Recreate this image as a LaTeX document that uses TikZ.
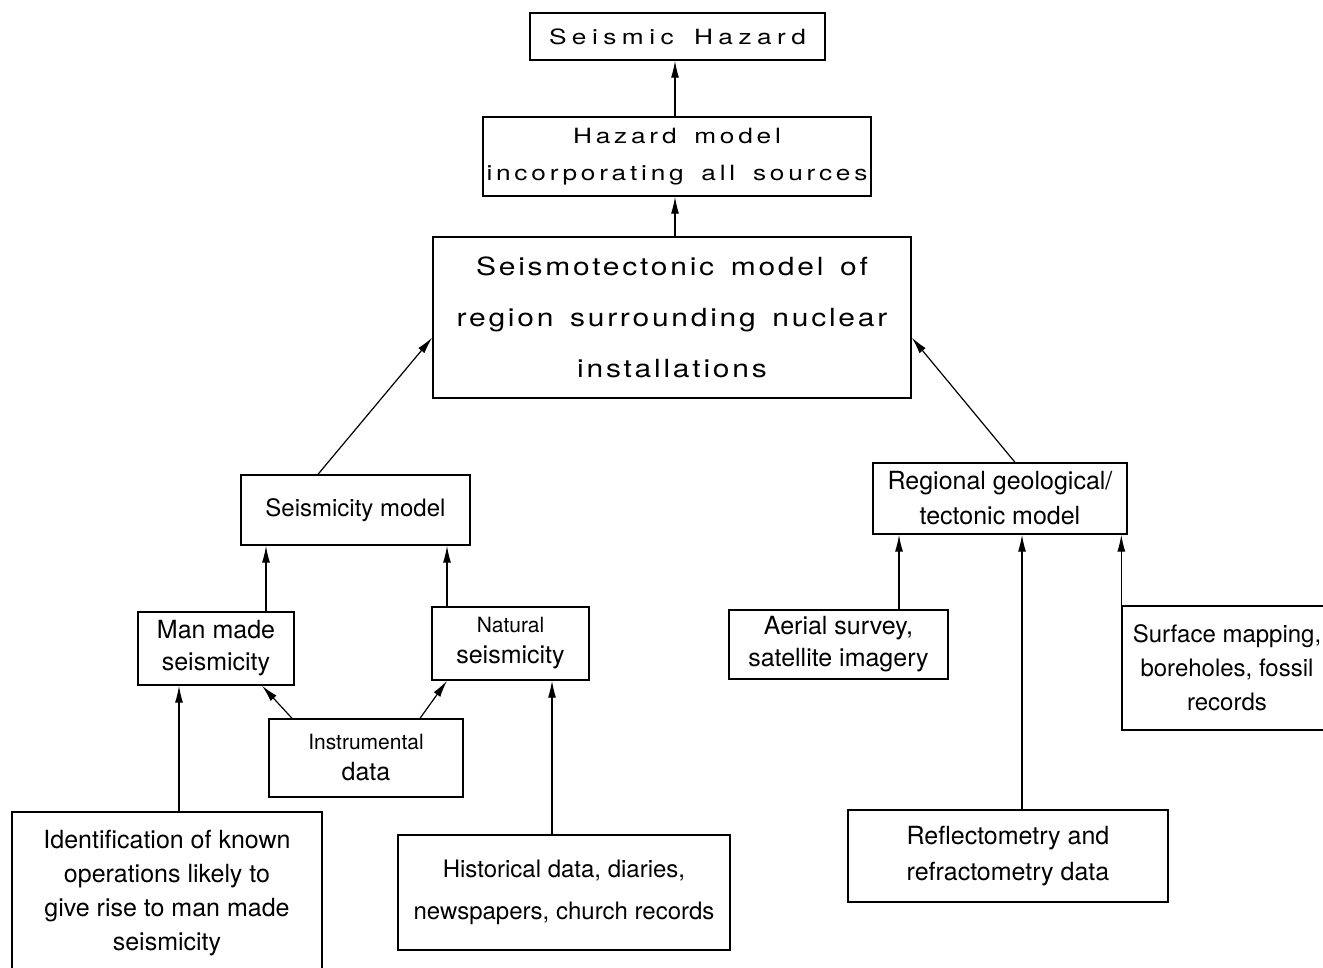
\documentclass[tikz,border=0pt]{standalone}
\usepackage{fontspec}
\setmainfont{TeX Gyre Heros}
\newfontfamily\hazfont[FakeStretch=1.25,LetterSpace=26,WordSpace=1.6]{TeX Gyre Heros}
\newfontfamily\modfont[FakeStretch=1.25,LetterSpace=18,WordSpace=1.6]{TeX Gyre Heros}
\newfontfamily\tecfont[FakeStretch=1.2,LetterSpace=11,WordSpace=1.5]{TeX Gyre Heros}
\usetikzlibrary{arrows.meta}

\newcommand{\setsz}[2]{\fontsize{#1}{#2}\selectfont}

\tikzset{
  box/.style={draw, line width=1.4pt, align=center, inner sep=0pt},
  feed/.style={-{Latex[length=17pt,width=8pt]}, line width=1.2pt},
}

\begin{document}
\begin{tikzpicture}[x=1pt, y=-1pt]
    \useasboundingbox (0,0) rectangle (1323,967);

    \node[box, minimum width=295, minimum height=47, font=\hazfont\setsz{21}{26}] (hazard) at (677.5,36.5) {Seismic Hazard};
    \node[box, minimum width=388, minimum height=79, font=\modfont\setsz{21}{37}] (hazmodel) at (677,156.5)
        {Hazard model\\incorporating all sources};
    \node[box, minimum width=478, minimum height=161, font=\tecfont\setsz{25}{51}] (tectonic) at (672,317.5)
        {Seismotectonic model of\\region surrounding nuclear\\installations};

    % seismicity branch
    \node[box, minimum width=229, minimum height=70, font=\setsz{24}{30}] (seismod) at (355.5,510) {Seismicity model};
    \node[box, minimum width=156, minimum height=73, font=\setsz{25}{32}] (manmade) at (216,648.5) {Man made\\seismicity};
    \node[box, minimum width=157, minimum height=73, font=\setsz{25}{31}] (natural) at (510.5,643.5)
        {{\setsz{21}{31}Natural}\\seismicity};
    \node[box, minimum width=194, minimum height=78, font=\setsz{25}{31}] (instr) at (366,758)
        {{\setsz{21}{31}Instrumental}\\data};
    \node[box, minimum width=310, minimum height=163, font=\setsz{25}{34}] (ident) at (167,893.5)
        {Identification of known\\operations likely to\\give rise to man made\\seismicity};
    \node[box, minimum width=332, minimum height=115, font=\setsz{24}{42}] (hist) at (564,892.5)
        {Historical data, diaries,\\newspapers, church records};

    % geological branch
    \node[box, minimum width=254, minimum height=71, font=\setsz{25}{35}] (regional) at (1000,498.5)
        {Regional geological/\\tectonic model};
    \node[box, minimum width=219, minimum height=69, font=\setsz{25}{32}] (aerial) at (838.5,644.5)
        {Aerial survey,\\satellite imagery};
    \node[box, minimum width=210, minimum height=124, font=\setsz{24}{34}] (surface) at (1227,668)
        {Surface mapping,\\boreholes, fossil\\records};
    \node[box, minimum width=320, minimum height=92, font=\setsz{25}{36}] (reflect) at (1008,856)
        {Reflectometry and\\refractometry data};

    % connectors
    \draw[feed] (hazmodel.north -| 675,0) -- (hazard.south -| 675,0);
    \draw[feed] (tectonic.north -| 675,0) -- (hazmodel.south -| 675,0);
    \draw[feed] (seismod.north -| 318,0) -- ([yshift=-20pt]tectonic.west);
    \draw[feed] (regional.north -| 1015,0) -- ([yshift=-20pt]tectonic.east);

    \draw[feed] (manmade.north -| 266,0) -- (seismod.south -| 266,0);
    \draw[feed] (natural.north -| 447,0) -- (seismod.south -| 447,0);
    \draw[feed] (instr.north -| 292,0) -- (manmade.south -| 262,0);
    \draw[feed] (instr.north -| 420,0) -- (natural.south -| 447,0);
    \draw[feed] (ident.north -| 179,0) -- (manmade.south -| 179,0);
    \draw[feed] (hist.north -| 552,0) -- (natural.south -| 552,0);

    \draw[feed] (aerial.north -| 899,0) -- (regional.south -| 899,0);
    \draw[feed] (reflect.north -| 1022,0) -- (regional.south -| 1022,0);
    \draw[feed] (surface.north west) -- (surface.north west |- regional.south);
\end{tikzpicture}
\end{document}
